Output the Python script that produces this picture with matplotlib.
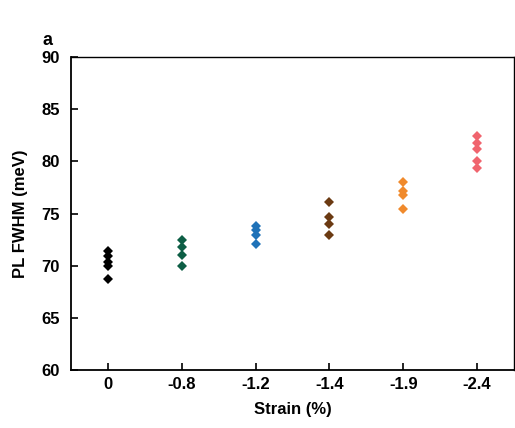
import matplotlib
matplotlib.use("Agg")
import matplotlib.pyplot as plt

plt.rcParams['font.family'] = ['Liberation Sans', 'DejaVu Sans']

categories = ["0", "-0.8", "-1.2", "-1.4", "-1.9", "-2.4"]
fwhm_0 = [71.4, 70.9, 70.4, 70.0, 68.7]
fwhm_08 = [72.5, 71.8, 71.0, 70.0]
fwhm_12 = [73.8, 73.4, 72.9, 72.1]
fwhm_14 = [76.1, 74.7, 74.0, 72.9]
fwhm_19 = [78.0, 77.2, 76.8, 75.4]
fwhm_24 = [82.4, 81.8, 81.2, 80.0, 79.4]
series = [fwhm_0, fwhm_08, fwhm_12, fwhm_14, fwhm_19, fwhm_24]
colors = ["#000000", "#0d5e45", "#1f72b8", "#6b3a12", "#f08a2c", "#f0646e"]

fig = plt.figure(figsize=(5.15, 4.28), dpi=100)
ax = fig.add_axes([0.138, 0.1355, 0.860, 0.731])

for i, (vals, c) in enumerate(zip(series, colors)):
    ax.plot([i] * len(vals), vals, linestyle='none', marker='D', markersize=5.6,
            color=c, markeredgewidth=0)

ax.set_xlim(-0.5, 5.5)
ax.set_ylim(60, 90)
ax.set_xticks(range(len(categories)))
ax.set_xticklabels(categories)
ax.set_yticks([60, 65, 70, 75, 80, 85, 90])
ax.tick_params(direction='in', length=5, width=1.2, labelsize=12, pad=8)
ax.tick_params(axis='x', top=False, pad=5)
for lab in ax.get_xticklabels() + ax.get_yticklabels():
    lab.set_fontweight('bold')
for sp in ax.spines.values():
    sp.set_linewidth(1.0)
for sp in ['left', 'bottom']:
    ax.spines[sp].set_linewidth(1.3)
ax.set_xlabel("Strain (%)", fontsize=12, fontweight='bold', labelpad=7)
ax.set_ylabel("PL FWHM (meV)", fontsize=12, fontweight='bold', labelpad=10)
fig.text(0.083, 0.895, "a", fontsize=13, fontweight='bold')

fig.savefig("out.png", dpi=100)
